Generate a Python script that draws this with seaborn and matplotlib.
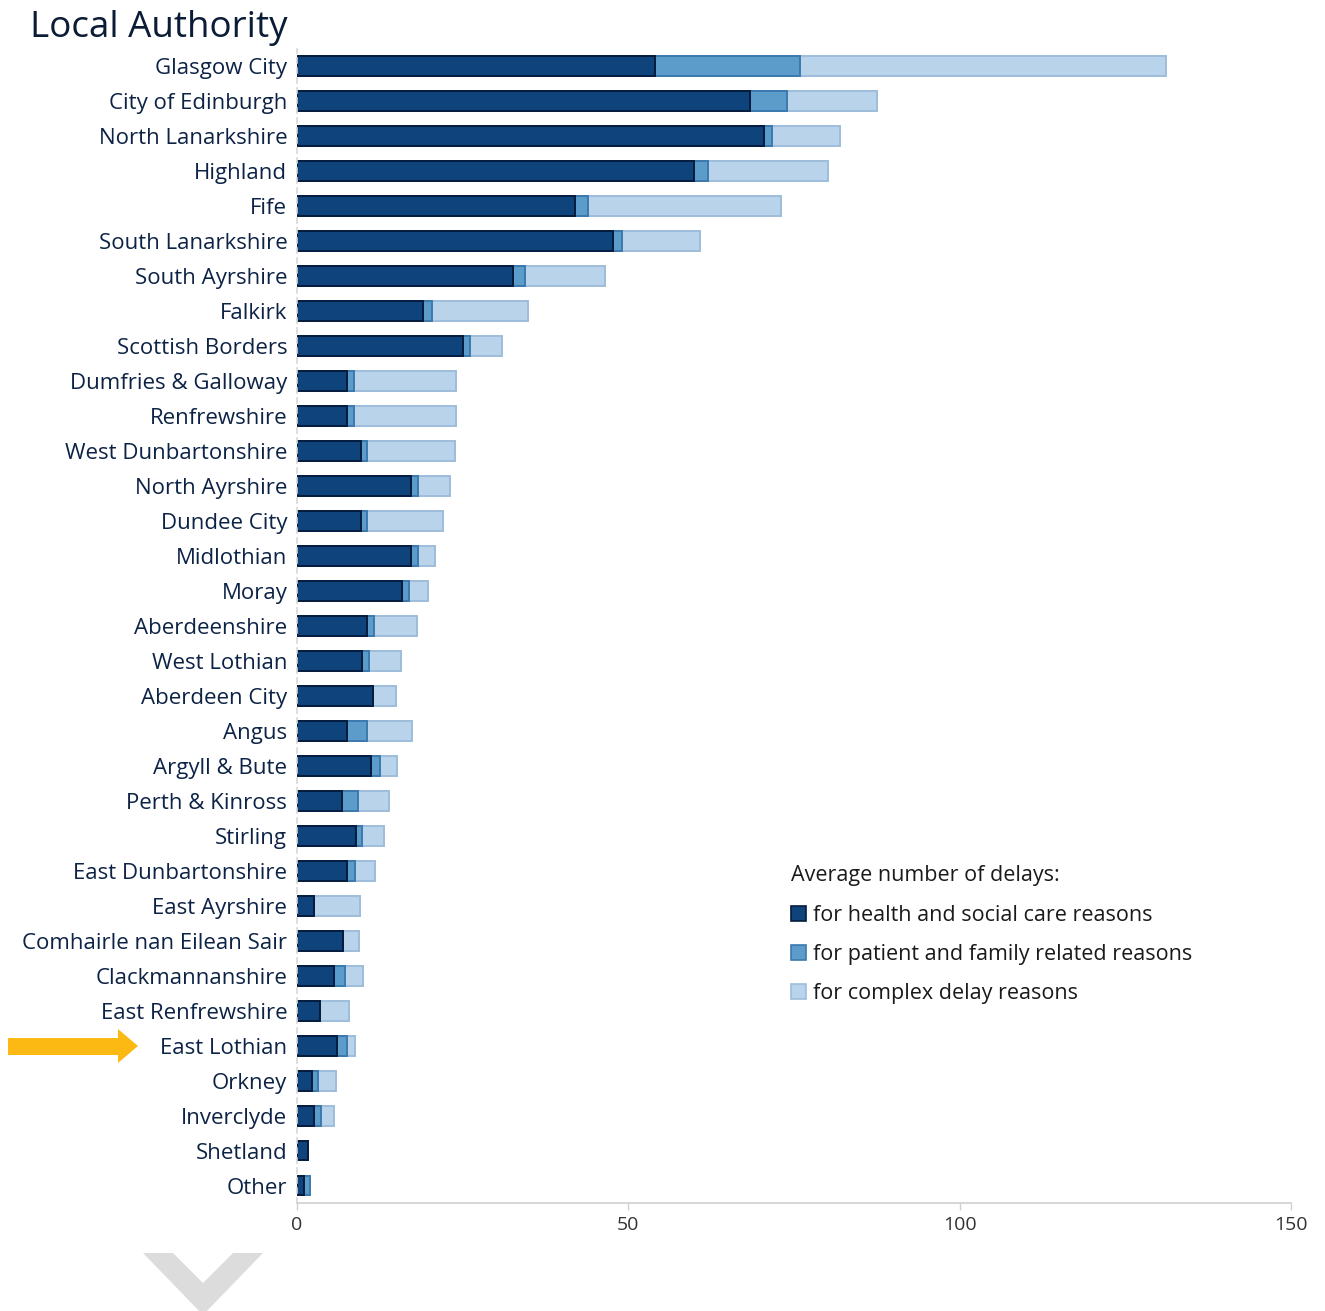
import numpy as np
import pandas as pd
import matplotlib
matplotlib.use("Agg")
import matplotlib.pyplot as plt
import seaborn as sns
from matplotlib.patches import Patch, Polygon

categories = ["Glasgow City", "City of Edinburgh", "North Lanarkshire", "Highland", "Fife",
              "South Lanarkshire", "South Ayrshire", "Falkirk", "Scottish Borders",
              "Dumfries & Galloway", "Renfrewshire", "West Dunbartonshire", "North Ayrshire",
              "Dundee City", "Midlothian", "Moray", "Aberdeenshire", "West Lothian",
              "Aberdeen City", "Angus", "Argyll & Bute", "Perth & Kinross", "Stirling",
              "East Dunbartonshire", "East Ayrshire", "Comhairle nan Eilean Sair",
              "Clackmannanshire", "East Renfrewshire", "East Lothian", "Orkney",
              "Inverclyde", "Shetland", "Other"]
health_social = [54.0, 68.4, 70.5, 59.9, 41.9, 47.7, 32.6, 19.0, 25.0, 7.6, 7.6, 9.6, 17.2,
                 9.6, 17.2, 15.8, 10.6, 9.8, 11.5, 7.6, 11.1, 6.8, 8.9, 7.6, 2.6, 6.9,
                 5.6, 3.5, 6.1, 2.2, 2.6, 1.7, 1.0]
patient_family = [21.9, 5.5, 1.2, 2.1, 2.0, 1.3, 1.8, 1.4, 1.1, 1.0, 1.0, 1.0, 1.1,
                  1.0, 1.0, 1.1, 1.0, 1.0, 0.0, 3.0, 1.5, 2.4, 0.9, 1.1, 0.0, 0.0,
                  1.7, 0.0, 1.4, 1.0, 1.0, 0.0, 0.9]
complex_delay = [55.2, 13.6, 10.2, 18.1, 29.1, 11.8, 12.1, 14.5, 4.8, 15.4, 15.4, 13.3, 4.8,
                 11.5, 2.6, 2.8, 6.5, 4.9, 3.5, 6.8, 2.5, 4.7, 3.4, 3.0, 6.9, 2.4,
                 2.7, 4.3, 1.3, 2.7, 2.0, 0.0, 0.0]
legend_title = "Average number of delays:"
series_labels = ["for health and social care reasons",
                 "for patient and family related reasons",
                 "for complex delay reasons"]
x_ticks = [0, 50, 100, 150]

df = pd.DataFrame({"cat": categories, "hs": health_social,
                   "pf": patient_family, "cx": complex_delay})
df["c1"] = df["hs"]
df["c2"] = df["hs"] + df["pf"]
df["c3"] = df["c2"] + df["cx"]

sns.set_theme(style="white")
plt.rcParams['font.family'] = ['Open Sans', 'DejaVu Sans']

W, H = 1325, 1311
fig = plt.figure(figsize=(W / 100, H / 100), dpi=100)
ax = fig.add_axes([297 / W, 1 - 1203 / H, (1291 - 297) / W, (1203 - 48.5) / H])

fills = ["#0f437c", "#5b9ccb", "#b9d4ea"]
edges = ["#041c3e", "#3c79ad", "#9dbddb"]
bw = 0.57
for col, fc, ec in [("c3", fills[2], edges[2]), ("c2", fills[1], edges[1]), ("c1", fills[0], edges[0])]:
    sns.barplot(data=df, x=col, y="cat", orient="h", color=fc, saturation=1,
                width=bw, edgecolor=ec, linewidth=1.4, ax=ax, order=categories)

ax.set_xlim(0, 150)
ax.set_ylim(len(categories) - 0.5, -0.5)
ax.set_xticks(x_ticks)
ax.set_xticklabels([str(t) for t in x_ticks])
ax.set_xlabel("")
ax.set_ylabel("")
ax.tick_params(axis="y", length=0, pad=7, labelsize=16, labelcolor="#0d2346")
ax.tick_params(axis="x", length=5, width=1, color="#d0d0d0", labelsize=14, labelcolor="#333333", pad=4, bottom=True)
for s in ["top", "right"]:
    ax.spines[s].set_visible(False)
ax.spines["bottom"].set_color("#d0d0d0")
ax.spines["bottom"].set_linewidth(1.2)
ax.spines["left"].set_color("#d8d8d8")
ax.spines["left"].set_linestyle((0, (3, 3)))
ax.spines["left"].set_linewidth(1.2)

fig.text(30 / W, 1 - 28 / H, "Local Authority", fontsize=26.5, color="#0b1c36",
         ha="left", va="center")

handles = [Patch(facecolor=fills[i], edgecolor=edges[i], linewidth=1.2) for i in range(3)]
leg = ax.legend(handles, series_labels, title=legend_title, loc="upper left",
                bbox_to_anchor=(772 / W, 1 - 846 / H), bbox_transform=fig.transFigure,
                frameon=False, fontsize=15.5, title_fontsize=15.5, handlelength=0.7,
                handleheight=0.7, handletextpad=0.3, labelspacing=0.85, alignment="left")
leg.get_title().set_color("#1a1a1a")
for t in leg.get_texts():
    t.set_color("#1a1a1a")

def fp(x, y):
    return (x / W, 1 - y / H)

arrow = Polygon([fp(8, 1038), fp(118, 1038), fp(118, 1029), fp(138, 1046),
                 fp(118, 1063), fp(118, 1055), fp(8, 1055)],
                closed=True, transform=fig.transFigure, facecolor="#fdb913",
                edgecolor="none")
fig.patches.append(arrow)
chev = Polygon([fp(143, 1253), fp(173, 1253), fp(203, 1283), fp(233, 1253),
                fp(263, 1253), fp(203, 1315)],
               closed=True, transform=fig.transFigure, facecolor="#dcdcdc",
               edgecolor="none")
fig.patches.append(chev)

fig.savefig("out.png", dpi=100, facecolor="white")
